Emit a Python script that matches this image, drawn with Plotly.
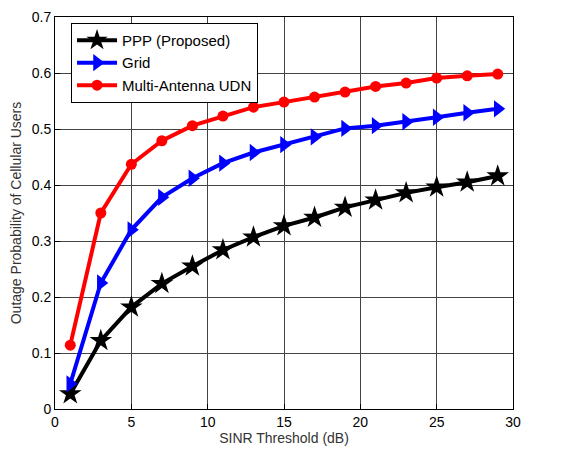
import plotly.graph_objects as go

x_vals = [1, 3, 5, 7, 9, 11, 13, 15, 17, 19, 21, 23, 25, 27, 29]
ppp = [0.027, 0.122, 0.182, 0.224, 0.255, 0.284, 0.307, 0.327, 0.342, 0.360, 0.373, 0.386, 0.396, 0.405, 0.416]
grid = [0.045, 0.225, 0.320, 0.378, 0.412, 0.439, 0.458, 0.472, 0.486, 0.501, 0.506, 0.513, 0.521, 0.529, 0.536]
udn = [0.114, 0.350, 0.437, 0.479, 0.506, 0.523, 0.539, 0.548, 0.557, 0.566, 0.576, 0.582, 0.591, 0.595, 0.598]

x_ticks = [0, 5, 10, 15, 20, 25, 30]
y_ticks = [0, 0.1, 0.2, 0.3, 0.4, 0.5, 0.6, 0.7]
y_tick_text = ["0", "0.1", "0.2", "0.3", "0.4", "0.5", "0.6", "0.7"]

fig = go.Figure()
fig.add_trace(go.Scatter(x=x_vals, y=ppp, mode="lines+markers", name="PPP (Proposed)",
                         line=dict(color="black", width=4),
                         marker=dict(symbol="star", size=17, color="black")))
fig.add_trace(go.Scatter(x=x_vals, y=grid, mode="lines+markers", name="Grid",
                         line=dict(color="blue", width=4),
                         marker=dict(symbol="triangle-right", size=15, color="blue")))
fig.add_trace(go.Scatter(x=x_vals, y=udn, mode="lines+markers", name="Multi-Antenna UDN",
                         line=dict(color="red", width=4),
                         marker=dict(symbol="circle", size=11, color="red")))

axis_common = dict(showline=True, linecolor="black", linewidth=1, mirror=True,
                   showgrid=True, gridcolor="#444444", gridwidth=1,
                   ticks="inside", ticklen=5, tickcolor="black",
                   zeroline=False, tickfont=dict(size=14, color="black"))

fig.update_layout(
    width=563, height=454,
    margin=dict(l=55, r=50, t=9, b=45),
    paper_bgcolor="white", plot_bgcolor="white",
    font=dict(family="Liberation Sans, Arial, sans-serif", color="#333333"),
    xaxis=dict(range=[0, 30], tickvals=x_ticks,
               title=dict(text="SINR Threshold (dB)", font=dict(size=14, color="#333333"), standoff=4),
               **axis_common),
    yaxis=dict(range=[0, 0.7], tickvals=y_ticks, ticktext=y_tick_text,
               title=dict(text="Outage Probability of Cellular Users", font=dict(size=14, color="#333333"), standoff=6),
               **axis_common),
    legend=dict(x=0.035, y=0.985, xanchor="left", yanchor="top",
                bgcolor="white", bordercolor="black", borderwidth=1,
                font=dict(size=15, color="black"), tracegroupgap=0, itemwidth=40),
    showlegend=True,
)

fig.write_html("out.html")
